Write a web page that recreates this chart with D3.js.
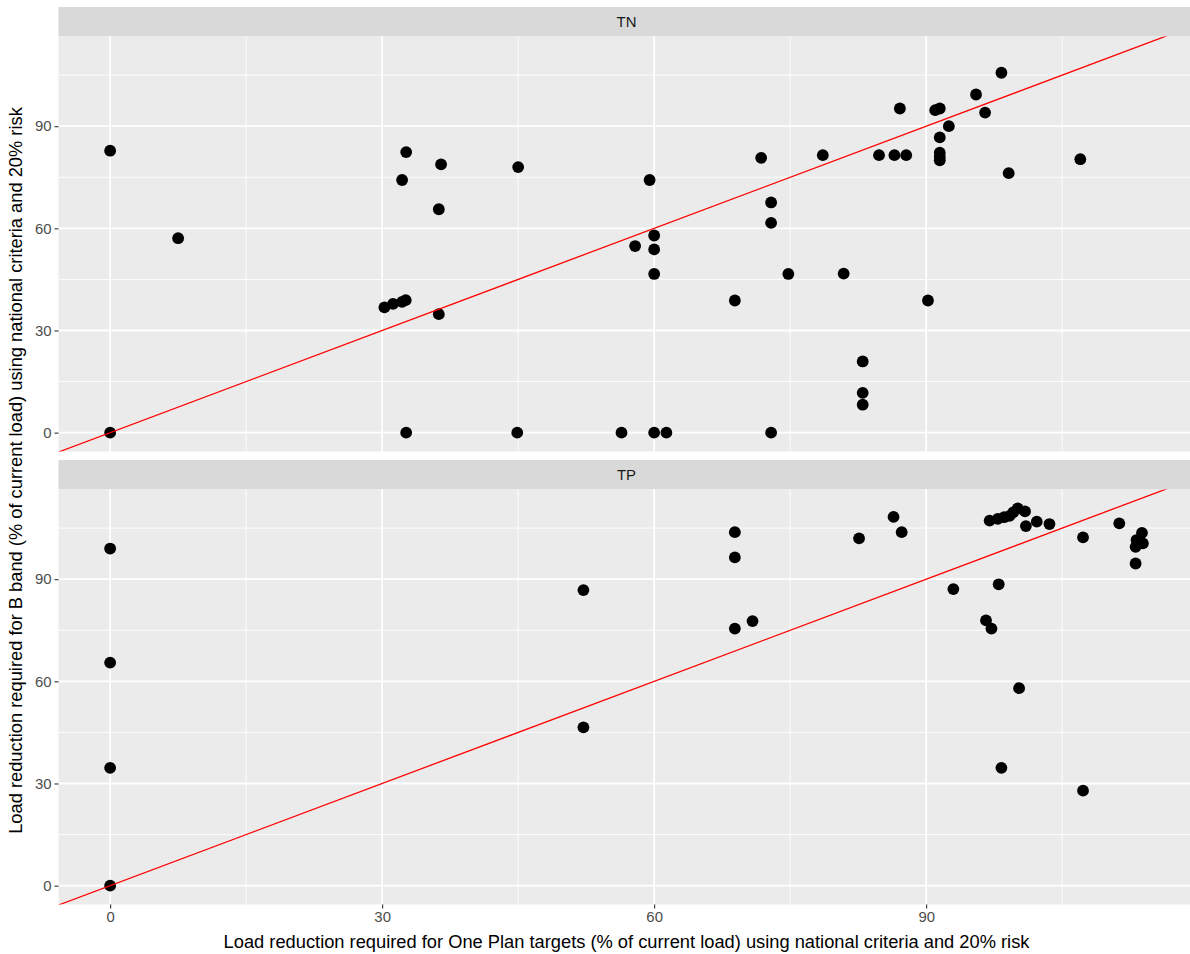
<!DOCTYPE html>
<html>
<head>
<meta charset="utf-8">
<script src="https://cdn.jsdelivr.net/npm/d3@7/dist/d3.min.js"></script>
<style>
  html, body { margin: 0; padding: 0; background: #ffffff; overflow: hidden; }
  svg { display: block; font-family: "Liberation Sans", Arial, sans-serif; }
</style>
</head>
<body>
<svg id="chart" width="1190" height="954"></svg>
<script>
// Load reduction (% of current load): One Plan targets (x) vs B band (y)
const panelNames = ["TN", "TP"];

const tnX = [0, 7.5, 0, 30.25, 31.2, 32.2, 32.6, 32.2, 32.65, 32.65, 36.5, 36.25, 36.25,
  45.0, 44.9, 56.4, 59.5, 60.0, 57.9, 60.0, 60.0, 60.0, 61.35, 68.9, 71.8, 72.9, 72.9,
  72.9, 74.8, 78.6, 80.9, 83.0, 83.0, 83.0, 84.8, 86.5, 87.8, 87.1, 90.2, 91.0, 91.5,
  91.5, 92.5, 91.5, 91.5, 91.5, 95.5, 96.5, 98.3, 99.1, 107.0];
const tnY = [82.8, 57.1, 0, 36.8, 37.8, 38.4, 38.9, 74.2, 82.4, 0, 78.8, 65.6, 34.8,
  78.0, 0, 0, 74.2, 57.9, 54.8, 53.8, 46.6, 0, 0, 38.8, 80.7, 67.6, 61.6,
  0, 46.6, 81.5, 46.7, 20.9, 11.7, 8.2, 81.5, 81.5, 81.5, 95.2, 38.8, 94.7, 95.2,
  86.7, 90.0, 82.2, 81.0, 80.0, 99.3, 94.0, 105.7, 76.2, 80.3];

const tpX = [0, 0, 0, 0, 52.2, 52.2, 68.9, 68.9, 68.9, 70.85, 82.6, 86.4, 87.3, 93.0,
  96.6, 97.2, 98.0, 98.3, 100.25, 97.0, 97.9, 98.6, 99.2, 99.6, 100.1, 100.9, 101.0,
  102.2, 103.6, 107.3, 107.3, 111.3, 113.8, 113.2, 113.9, 113.1, 113.1];
const tpY = [99.0, 65.5, 34.6, 0, 86.8, 46.5, 103.8, 96.4, 75.5, 77.7, 102.0, 108.3, 103.8, 87.1,
  77.9, 75.5, 88.5, 34.6, 58.0, 107.2, 107.7, 108.2, 108.6, 109.6, 110.8, 109.9, 105.6,
  106.9, 106.2, 102.3, 27.9, 106.4, 103.6, 101.5, 100.5, 99.5, 94.6];

const xTicks = [0, 30, 60, 90];
const xMinor = [15, 45, 75, 105];
const yTicks = [0, 30, 60, 90];
const yMinor = [15, 45, 75, 105];

const xTitle = "Load reduction required for One Plan targets (% of current load) using national criteria and 20% risk";
const yTitle = "Load reduction required for B band (% of current load) using national criteria and 20% risk";

// ---- layout ----
const svg = d3.select("#chart");
const panelLeft = 58.5, panelRight = 1194.5;
const stripH = 29.5;
const panels = [
  { name: panelNames[0], xs: tnX, ys: tnY, top: 7 },
  { name: panelNames[1], xs: tpX, ys: tpY, top: 460 }
];
const panelH = 415;
const tickFont = 14.9, titleFont = 18.3;

// shared scales with 5% expansion on each side
const allX = tnX.concat(tpX), allY = tnY.concat(tpY);
const xr = d3.extent(allX), yr = d3.extent(allY);
const xPad = (xr[1] - xr[0]) * 0.05, yPad = (yr[1] - yr[0]) * 0.05;
const xDom = [xr[0] - xPad, xr[1] + xPad];
const yDom = [yr[0] - yPad, yr[1] + yPad];
const x = d3.scaleLinear().domain(xDom).range([panelLeft, panelRight]);

const defs = svg.append("defs");

panels.forEach((p, i) => {
  const pTop = p.top + stripH, pBot = pTop + panelH;
  const y = d3.scaleLinear().domain(yDom).range([pBot, pTop]);
  const g = svg.append("g");

  // strip
  g.append("rect").attr("x", panelLeft).attr("y", p.top)
    .attr("width", panelRight - panelLeft).attr("height", stripH).attr("fill", "#D9D9D9");
  g.append("text").attr("x", (panelLeft + panelRight) / 2).attr("y", p.top + stripH / 2)
    .attr("dy", "0.36em").attr("text-anchor", "middle")
    .attr("font-size", tickFont).attr("fill", "#1A1A1A").text(p.name);

  // panel background
  g.append("rect").attr("x", panelLeft).attr("y", pTop)
    .attr("width", panelRight - panelLeft).attr("height", panelH).attr("fill", "#EBEBEB");

  // grid
  const grid = g.append("g");
  grid.selectAll(".xmin").data(xMinor).join("line")
    .attr("x1", d => x(d)).attr("x2", d => x(d)).attr("y1", pTop).attr("y2", pBot)
    .attr("stroke", "#fff").attr("stroke-width", 0.9);
  grid.selectAll(".ymin").data(yMinor).join("line")
    .attr("x1", panelLeft).attr("x2", panelRight).attr("y1", d => y(d)).attr("y2", d => y(d))
    .attr("stroke", "#fff").attr("stroke-width", 0.9);
  grid.selectAll(".xmaj").data(xTicks).join("line")
    .attr("x1", d => x(d)).attr("x2", d => x(d)).attr("y1", pTop).attr("y2", pBot)
    .attr("stroke", "#fff").attr("stroke-width", 1.8);
  grid.selectAll(".ymaj").data(yTicks).join("line")
    .attr("x1", panelLeft).attr("x2", panelRight).attr("y1", d => y(d)).attr("y2", d => y(d))
    .attr("stroke", "#fff").attr("stroke-width", 1.8);

  // clip to panel
  const clipId = "clip" + i;
  defs.append("clipPath").attr("id", clipId).append("rect")
    .attr("x", panelLeft).attr("y", pTop).attr("width", panelRight - panelLeft).attr("height", panelH);

  const plot = g.append("g").attr("clip-path", `url(#${clipId})`);
  const pts = p.xs.map((v, k) => [v, p.ys[k]]);
  plot.selectAll("circle").data(pts).join("circle")
    .attr("cx", d => x(d[0])).attr("cy", d => y(d[1])).attr("r", 5.9).attr("fill", "#000");

  // 1:1 reference line
  plot.append("line")
    .attr("x1", x(xDom[0])).attr("y1", y(xDom[0]))
    .attr("x2", x(xDom[1])).attr("y2", y(xDom[1]))
    .attr("stroke", "#FF0000").attr("stroke-width", 1.3);

  // y axis
  const yAxis = d3.axisLeft(y).tickValues(yTicks).tickSize(4).tickPadding(3).tickFormat(d3.format("d"));
  const ya = g.append("g").attr("transform", `translate(${panelLeft},0)`).call(yAxis);
  ya.select(".domain").remove();
  ya.selectAll(".tick line").attr("stroke", "#333333").attr("stroke-width", 1.1);
  ya.selectAll(".tick text").attr("fill", "#4D4D4D").attr("font-size", tickFont)
    .attr("font-family", "Liberation Sans, Arial, sans-serif");

  // x axis under the bottom panel only
  if (i === panels.length - 1) {
    const xAxis = d3.axisBottom(x).tickValues(xTicks).tickSize(4).tickPadding(3).tickFormat(d3.format("d"));
    const xa = g.append("g").attr("transform", `translate(0,${pBot})`).call(xAxis);
    xa.select(".domain").remove();
    xa.selectAll(".tick line").attr("stroke", "#333333").attr("stroke-width", 1.1);
    xa.selectAll(".tick text").attr("fill", "#4D4D4D").attr("font-size", tickFont)
      .attr("font-family", "Liberation Sans, Arial, sans-serif");
  }
});

// axis titles (y title centred on the span of both panels)
const yMid = (7 + stripH + 460 + stripH + panelH) / 2;
svg.append("text").attr("x", (panelLeft + panelRight) / 2).attr("y", 948)
  .attr("text-anchor", "middle").attr("font-size", titleFont).attr("fill", "#000").text(xTitle);
svg.append("text").attr("transform", `translate(22,${yMid}) rotate(-90)`)
  .attr("text-anchor", "middle").attr("font-size", titleFont).attr("fill", "#000").text(yTitle);
</script>
</body>
</html>
